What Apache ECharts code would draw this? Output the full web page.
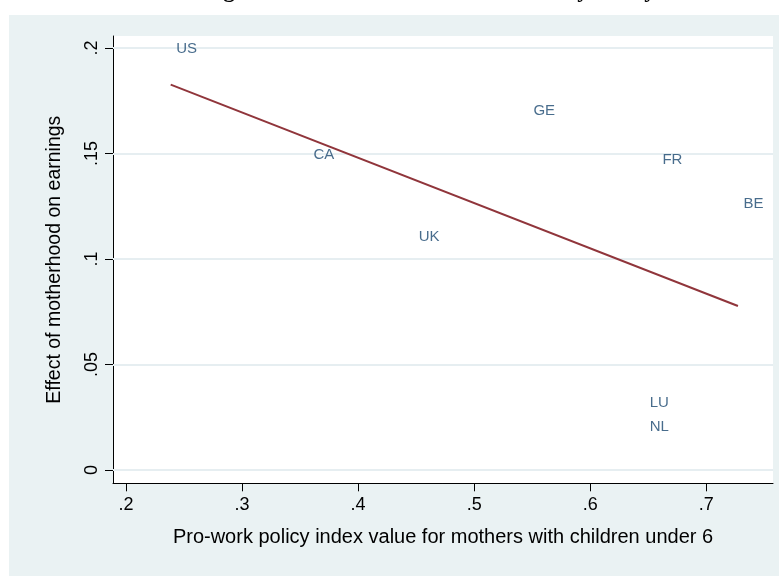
<!DOCTYPE html>
<html>
<head>
<meta charset="utf-8">
<script src="https://cdn.jsdelivr.net/npm/echarts@6/dist/echarts.min.js"></script>
<style>html,body{margin:0;padding:0;background:#fff;}#chart{width:779px;height:576px;}</style>
</head>
<body>
<div id="chart"></div>
<script>
// Data
const countries = ['US', 'CA', 'UK', 'GE', 'FR', 'LU', 'NL', 'BE'];
const policyIndex = [0.2386, 0.3568, 0.4475, 0.5463, 0.6574, 0.6465, 0.6465, 0.7272];
const motherhoodEffect = [0.1995, 0.1493, 0.1103, 0.1703, 0.1469, 0.0319, 0.0205, 0.1261];
const xTicks = [0.2, 0.3, 0.4, 0.5, 0.6, 0.7];
const yTicks = [0, 0.05, 0.1, 0.15, 0.2];
// NOTE: the reference crops its title off at the top edge; only a few descenders ("g", "y", "y")
// are visible. This text is a PLACEHOLDER GUESS chosen to reproduce those descenders, not the real title.
const titleText = 'Earnings Effect of Motherhood in States by Policy';

// Linear fit (Stata lfit) from the data
const n = policyIndex.length;
const mx = policyIndex.reduce((a, b) => a + b, 0) / n;
const my = motherhoodEffect.reduce((a, b) => a + b, 0) / n;
let sxy = 0, sxx = 0;
for (let i = 0; i < n; i++) {
  sxy += (policyIndex[i] - mx) * (motherhoodEffect[i] - my);
  sxx += (policyIndex[i] - mx) ** 2;
}
const slope = sxy / sxx;
const icpt = my - slope * mx;
const xMin = Math.min(...policyIndex), xMax = Math.max(...policyIndex);
const fitLine = [[xMin, icpt + slope * xMin], [xMax, icpt + slope * xMax]];

const fmt = v => {
  const s = String(+v.toFixed(4));
  return s.replace(/^0\./, '.');
};

// place the (mostly cropped) title so the "y" of "by" sits where it does in the reference
const TITLE_FONT = 'bold 23.5px "Liberation Serif", "Times New Roman", serif';
const cv = document.createElement('canvas').getContext('2d');
cv.font = TITLE_FONT;
const idx = titleText.indexOf(' by ') + 2;
const pre = cv.measureText(titleText.slice(0, idx)).width;
const yw = cv.measureText('y').width;
const titleX = 583 - pre - yw / 2;

const chart = echarts.init(document.getElementById('chart'));
const FONT = 'Liberation Sans, Arial, sans-serif';
chart.setOption({
  animation: false,
  backgroundColor: '#eaf2f3',
  textStyle: { fontFamily: FONT },
  graphic: [
    { type: 'rect', shape: { x: 0, y: 0, width: 779, height: 15 }, style: { fill: '#ffffff' }, z: 100 },
    { type: 'rect', shape: { x: 0, y: 0, width: 9, height: 576 }, style: { fill: '#ffffff' }, z: 100 },
    { type: 'text', x: titleX, y: -9.5, z: 101,
      style: { text: titleText, fill: '#000', font: TITLE_FONT,
               textAlign: 'left', textVerticalAlign: 'middle' } }
  ],
  grid: {
    left: 113, top: 36, width: 660, height: 447.3,
    show: true, backgroundColor: '#ffffff', borderWidth: 0
  },
  xAxis: {
    type: 'value', min: 0.1889, max: 0.7574,
    name: 'Pro-work policy index value for mothers with children under 6',
    nameLocation: 'middle', nameGap: 44,
    nameTextStyle: { fontSize: 20, color: '#000', fontFamily: FONT },
    axisLine: { show: true, onZero: false, lineStyle: { color: '#000', width: 1 } },
    axisTick: { show: true, length: 8, lineStyle: { color: '#000' }, customValues: xTicks },
    axisLabel: { customValues: xTicks, formatter: fmt, fontSize: 18, color: '#000', margin: 13, fontFamily: FONT },
    splitLine: { show: false }
  },
  yAxis: {
    type: 'value', min: -0.0063, max: 0.2057,
    name: 'Effect of motherhood on earnings',
    nameLocation: 'middle', nameGap: 48,
    nameTextStyle: { fontSize: 19.5, color: '#000', fontFamily: FONT },
    axisLine: { show: true, onZero: false, lineStyle: { color: '#000', width: 1 } },
    axisTick: { show: true, length: 8, lineStyle: { color: '#000' }, customValues: yTicks },
    axisLabel: { customValues: yTicks, formatter: fmt, rotate: 90, fontSize: 18, color: '#000', margin: 12, fontFamily: FONT },
    splitLine: { show: false }
  },
  series: [
    {
      type: 'line', data: [], silent: true, z: 1,
      markLine: {
        silent: true, symbol: ['none', 'none'], animation: false, z: 1,
        label: { show: false },
        lineStyle: { color: '#e6eef1', width: 2, type: 'solid' },
        data: yTicks.map(v => ({ yAxis: v }))
      }
    },
    {
      type: 'line', data: fitLine, symbol: 'none', silent: true,
      lineStyle: { color: '#90353b', width: 2 }, z: 3
    },
    {
      type: 'scatter', symbol: 'circle', symbolSize: 1,
      itemStyle: { color: 'rgba(0,0,0,0)' },
      data: countries.map((c, i) => ({ name: c, value: [policyIndex[i], motherhoodEffect[i]] })),
      label: {
        show: true, position: 'right', distance: 5,
        formatter: p => p.name, color: '#1a476f', fontSize: 15, fontFamily: FONT,
        textBorderWidth: 0
      },
      z: 10
    }
  ]
});
</script>
</body>
</html>
